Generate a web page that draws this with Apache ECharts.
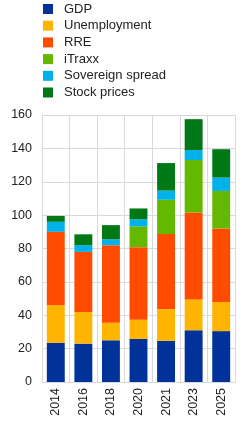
<!DOCTYPE html>
<html><head><meta charset="utf-8">
<script src="https://cdn.jsdelivr.net/npm/echarts@6/dist/echarts.min.js"></script>
<style>html,body{margin:0;padding:0;background:#fff}#c{width:248px;height:423px}</style>
</head><body><div id="c"></div>
<script>
const categories = ['2014','2016','2018','2020','2021','2023','2025'];
const gdp          = [23.5, 23, 25, 25.8, 24.7, 31, 30.5];
const unemployment = [22.5, 19, 10.5, 11.5, 19, 18.5, 17.5];
const rre          = [44, 36, 46.5, 43.5, 45, 52, 44];
const itraxx       = [0, 0, 0, 12.5, 20.5, 31.5, 22.5];
const sovereign    = [6, 4, 3.5, 4.2, 5.5, 6, 8];
const stock        = [3.5, 6.5, 8.5, 6.5, 16.5, 18.5, 17];
const seriesNames = ['GDP','Unemployment','RRE','iTraxx','Sovereign spread','Stock prices'];
const colors = ['#003299','#ffb400','#ff4b00','#65b800','#00b1ea','#007816'];
const values = [gdp, unemployment, rre, itraxx, sovereign, stock];

const chart = echarts.init(document.getElementById('c'));
chart.setOption({
  animation: false,
  color: colors,
  legend: {
    orient: 'vertical', left: 43, top: 2, padding: 0,
    itemWidth: 10, itemHeight: 10, itemGap: 2.7,
    icon: 'rect',
    textStyle: {fontFamily: 'Liberation Sans', fontSize: 13, color: '#222', padding: [0,0,0,6], lineHeight: 14},
    data: seriesNames
  },
  grid: {left: 42, right: 13, top: 115, bottom: 41, containLabel: false},
  xAxis: {
    type: 'category', data: categories,
    axisLine: {lineStyle: {color: '#d9d9d9'}},
    axisTick: {show: false},
    splitLine: {show: true, lineStyle: {color: '#d9d9d9'}},
    axisLabel: {rotate: 90, fontFamily: 'Liberation Sans', fontSize: 12.5, color: '#222', margin: 6}
  },
  yAxis: {
    type: 'value', min: 0, max: 160, interval: 20,
    axisLine: {show: true, lineStyle: {color: '#d9d9d9'}},
    axisTick: {show: false},
    splitLine: {lineStyle: {color: '#d9d9d9'}},
    axisLabel: {fontFamily: 'Liberation Sans', fontSize: 12.5, color: '#222', margin: 10}
  },
  series: seriesNames.map((n, i) => ({
    name: n, type: 'bar', stack: 'a', data: values[i], barWidth: '65%'
  }))
});
</script></body></html>
